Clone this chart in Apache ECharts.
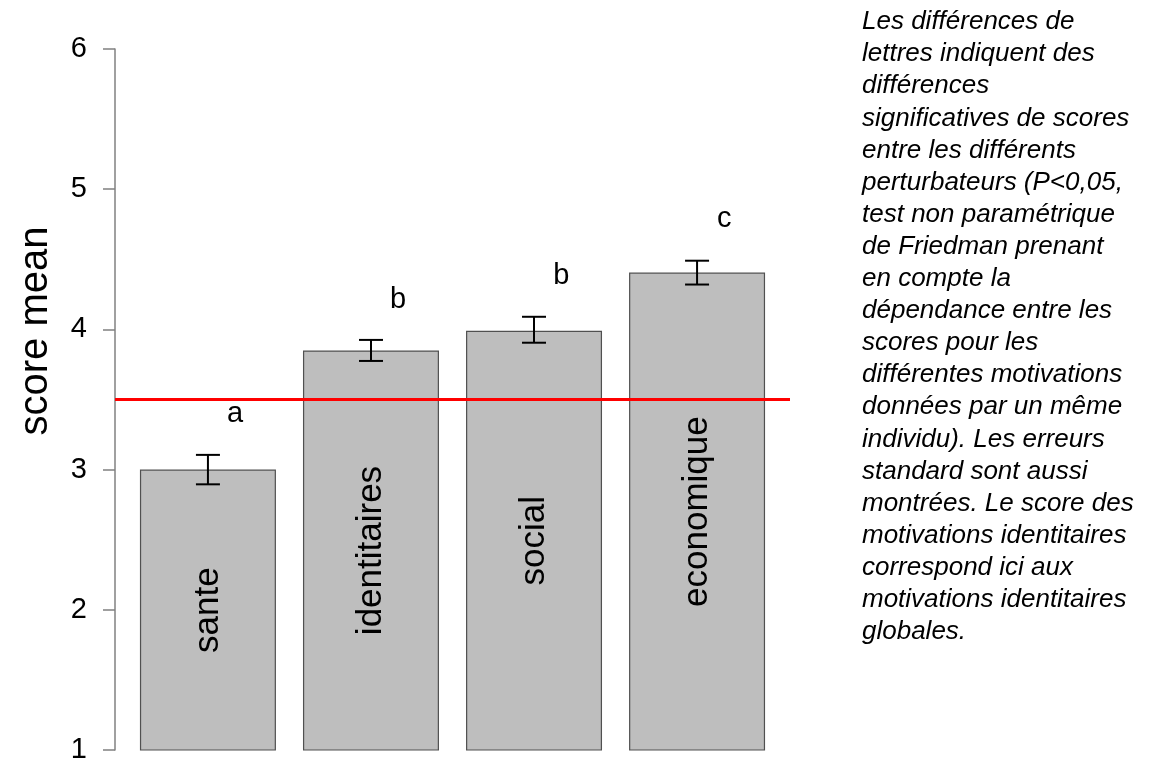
<!DOCTYPE html>
<html>
<head>
<meta charset="utf-8">
<script src="https://cdn.jsdelivr.net/npm/echarts@6/dist/echarts.min.js"></script>
<style>
  html, body { margin: 0; padding: 0; background: #fff; }
  #chart { width: 1149px; height: 760px; }
</style>
</head>
<body>
<div id="chart"></div>
<script>
const categories = ['sante', 'identitaires', 'social', 'economique']
const means = [3.0, 3.85, 3.99, 4.405]
const errLow = [2.895, 3.775, 3.905, 4.32]
const errHigh = [3.105, 3.925, 4.09, 4.49]
const letters = ['a', 'b', 'b', 'c']
const letterY = [3.40, 4.21, 4.38, 4.785]
const threshold = 3.5
const yTicks = [1, 2, 3, 4, 5, 6]

const noteLines = [
  'Les différences de',
  'lettres indiquent des',
  'différences',
  'significatives de scores',
  'entre les différents',
  'perturbateurs (P<0,05,',
  'test non paramétrique',
  'de Friedman prenant',
  'en compte la',
  'dépendance entre les',
  'scores pour les',
  'différentes motivations',
  'données par un même',
  'individu). Les erreurs',
  'standard sont aussi',
  'montrées. Le score des',
  'motivations identitaires',
  'correspond ici aux',
  'motivations identitaires',
  'globales.'
]

// R barplot layout: width 1, space 0.2
const barX = categories.map((c, i) => 0.7 + 1.2 * i)
const font = 'Liberation Sans, Arial, sans-serif'

const chart = echarts.init(document.getElementById('chart'))

const options = {
  backgroundColor: '#fff',
  animation: false,
  grid: { left: 115, right: 359, top: 49, bottom: 10, outerBoundsMode: 'none', containLabel: false },
  xAxis: {
    type: 'value',
    min: 0.016,
    max: 4.984,
    show: false
  },
  yAxis: {
    type: 'value',
    min: yTicks[0],
    max: yTicks[yTicks.length - 1],
    interval: 1,
    axisLine: { show: true, lineStyle: { color: '#808080', width: 1.5 } },
    axisTick: { show: true, length: 12, lineStyle: { color: '#808080', width: 1.5 } },
    axisLabel: { fontFamily: font, fontSize: 29, color: '#000', margin: 28 },
    splitLine: { show: false }
  },
  series: [{
    type: 'bar',
    barWidth: 136,
    data: means.map((v, i) => [barX[i], v]),
    itemStyle: { color: '#bebebe', borderColor: '#505050', borderWidth: 1.2 },
    label: {
      show: true,
      position: 'inside',
      rotate: 90,
      formatter: p => categories[p.dataIndex],
      fontFamily: font,
      fontSize: 35,
      color: '#000'
    },
    markLine: {
      silent: true,
      symbol: 'none',
      label: { show: false },
      lineStyle: { color: '#ff0000', width: 3, type: 'solid' },
      data: [{ yAxis: threshold }]
    },
    z: 2
  }, {
    // error bars (standard errors)
    type: 'custom',
    data: errLow.map((lo, i) => [barX[i], lo, errHigh[i]]),
    renderItem: (params, api) => {
      const x = api.value(0)
      const lo = api.coord([x, api.value(1)])
      const hi = api.coord([x, api.value(2)])
      const cap = 12
      const style = { stroke: '#000', lineWidth: 2 }
      return {
        type: 'group',
        children: [
          { type: 'line', shape: { x1: lo[0], y1: lo[1], x2: hi[0], y2: hi[1] }, style },
          { type: 'line', shape: { x1: lo[0] - cap, y1: lo[1], x2: lo[0] + cap, y2: lo[1] }, style },
          { type: 'line', shape: { x1: hi[0] - cap, y1: hi[1], x2: hi[0] + cap, y2: hi[1] }, style }
        ]
      }
    },
    z: 5
  }, {
    // significance letters
    type: 'custom',
    data: letterY.map((v, i) => [barX[i] + 0.2, v]),
    renderItem: (params, api) => {
      const p = api.coord([api.value(0), api.value(1)])
      return {
        type: 'text',
        x: p[0],
        y: p[1],
        style: {
          text: letters[params.dataIndex],
          fontFamily: font,
          fontSize: 29,
          fill: '#000',
          textAlign: 'center',
          textVerticalAlign: 'middle'
        }
      }
    },
    z: 6
  }],
  graphic: [{
    type: 'text',
    x: 36,
    y: 331,
    rotation: Math.PI / 2,
    style: {
      text: 'score mean',
      fontFamily: font,
      fontSize: 40,
      fill: '#000',
      textAlign: 'center',
      textVerticalAlign: 'middle'
    }
  }].concat(noteLines.map((t, i) => ({
    type: 'text',
    x: 862,
    y: 22 + 32.1 * i,
    style: {
      text: t,
      fontFamily: font,
      fontSize: 26,
      fontStyle: 'italic',
      fill: '#000',
      textVerticalAlign: 'middle'
    }
  })))
}
chart.setOption(options)
</script>
</body>
</html>
